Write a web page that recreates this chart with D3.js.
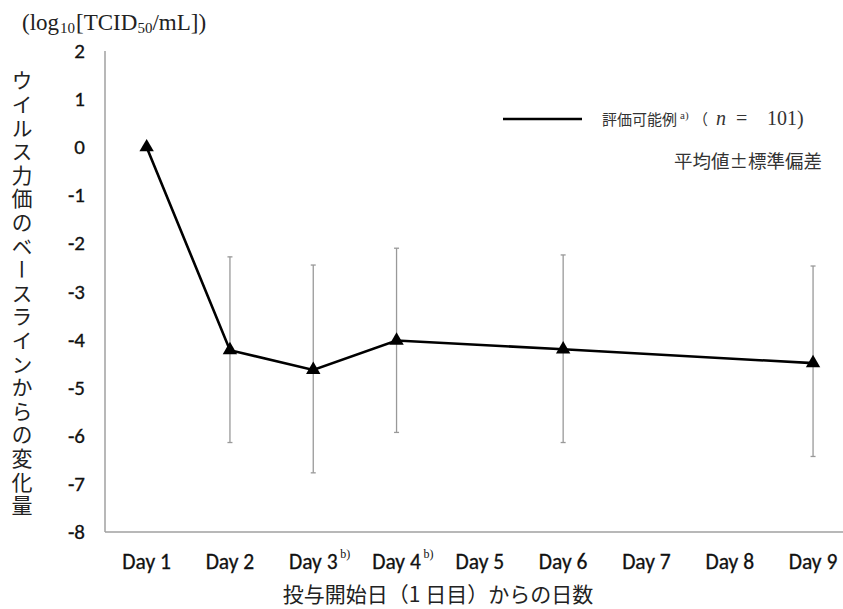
<!DOCTYPE html>
<html><head><meta charset="utf-8">
<script src="https://cdn.jsdelivr.net/npm/d3@7"></script>
<style>body{margin:0;background:#fff}</style>
</head><body>
<svg id="c" width="843" height="609"></svg>
<script>
const days = ["Day 1","Day 2","Day 3","Day 4","Day 5","Day 6","Day 7","Day 8","Day 9"];
const daySup = ["","","b)","b)","","","","",""];
const pointDays = ["Day 1","Day 2","Day 3","Day 4","Day 6","Day 9"];
const means = [0, -4.22, -4.63, -4.02, -4.20, -4.49];
const errLow = [null, -6.14, -6.77, -5.93, -6.14, -6.43];
const errHigh = [null, -2.28, -2.45, -2.10, -2.24, -2.47];
const yTicks = [2,1,0,-1,-2,-3,-4,-5,-6,-7,-8];
const yTitle = "ウイルス力価のベースラインからの変化量";
const xTitle = "投与開始日（1 日目）からの日数";
const legendLabel = "評価可能例";
const legendNote = "平均値±標準偏差";

const svg = d3.select("#c");
const x = d3.scaleBand().domain(days).range([105, 105 + 9*83.3]);
const y = d3.scaleLinear().domain([-8, 2]).range([532, 51]);
const cx = d => x(d) + x.bandwidth()/2;

// axes
svg.append("line").attr("x1",105).attr("x2",105).attr("y1",y(2)).attr("y2",y(-8))
  .attr("stroke","#a0a0a0").attr("stroke-width",1.5);
svg.append("line").attr("x1",105).attr("x2",843).attr("y1",y(-8)).attr("y2",y(-8))
  .attr("stroke","#a0a0a0").attr("stroke-width",1.5);

const tickFont = "Carlito, Lato, 'Open Sans', sans-serif";
svg.append("g").selectAll("text").data(yTicks).join("text")
  .attr("x",85).attr("y",d=>y(d)+7).attr("text-anchor","end")
  .attr("font-family",tickFont).attr("font-size",21)
  .attr("fill","#111").attr("stroke","#111").attr("stroke-width",0.3).text(d=>d);

svg.append("g").selectAll("text").data(days).join("text")
  .attr("x",d=>cx(d)).attr("y",569).attr("text-anchor","middle")
  .attr("font-family",tickFont).attr("font-size",21.5)
  .attr("fill","#111").attr("stroke","#111").attr("stroke-width",0.3).text(d=>d);
svg.append("g").selectAll("text").data(days.filter((d,i)=>daySup[i])).join("text")
  .attr("x",d=>cx(d)+27).attr("y",558)
  .attr("font-family","'Liberation Serif', serif").attr("font-size",12)
  .attr("fill","#111").text(d=>daySup[days.indexOf(d)]);

// error bars
const eb = pointDays.map((d,i)=>({d,lo:errLow[i],hi:errHigh[i]})).filter(e=>e.lo!==null);
const g = svg.append("g").attr("stroke","#999").attr("stroke-width",1.3);
g.selectAll("line.v").data(eb).join("line").attr("class","v")
  .attr("x1",e=>cx(e.d)).attr("x2",e=>cx(e.d)).attr("y1",e=>y(e.hi)).attr("y2",e=>y(e.lo));
g.selectAll("line.t").data(eb).join("line").attr("class","t")
  .attr("x1",e=>cx(e.d)-2.5).attr("x2",e=>cx(e.d)+2.5).attr("y1",e=>y(e.hi)).attr("y2",e=>y(e.hi));
g.selectAll("line.b").data(eb).join("line").attr("class","b")
  .attr("x1",e=>cx(e.d)-2.5).attr("x2",e=>cx(e.d)+2.5).attr("y1",e=>y(e.lo)).attr("y2",e=>y(e.lo));

// line
const pts = pointDays.map((d,i)=>[cx(d), y(means[i])]);
svg.append("path").attr("d",d3.line()(pts)).attr("fill","none")
  .attr("stroke","#000").attr("stroke-width",2.6);
svg.append("g").selectAll("path").data(pts).join("path")
  .attr("transform",p=>`translate(${p[0]},${p[1]})`)
  .attr("d",d3.symbol(d3.symbolTriangle,90)).attr("fill","#000");

// y title (vertical)
svg.append("text").attr("x",22).attr("y",70)
  .style("writing-mode","vertical-rl").style("text-orientation","upright")
  .attr("font-family","'Noto Sans CJK JP', sans-serif").attr("font-size",21)
  .attr("letter-spacing",2.6).attr("fill","#222").text(yTitle);

// unit label
const u = svg.append("text").attr("x",22).attr("y",30)
  .attr("font-family","'Liberation Serif', serif").attr("font-size",23).attr("fill","#222");
u.append("tspan").text("(log");
u.append("tspan").attr("font-size",15).attr("dy",3).attr("dx",1).text("10");
u.append("tspan").attr("dy",-3).attr("dx",1).text("[TCID");
u.append("tspan").attr("font-size",15).attr("dy",3).text("50");
u.append("tspan").attr("dy",-3).text("/mL])");

// x title
svg.append("text").attr("x",438).attr("y",602).attr("text-anchor","middle")
  .attr("font-family","'Noto Sans CJK JP', sans-serif").attr("font-size",21)
  .attr("fill","#222").text(xTitle);

// legend
svg.append("line").attr("x1",503).attr("x2",582).attr("y1",119).attr("y2",119)
  .attr("stroke","#000").attr("stroke-width",2.4);
const lt = svg.append("text").attr("y",125)
  .attr("font-family","'Noto Sans CJK JP', sans-serif").attr("font-size",15).attr("fill","#333");
lt.append("tspan").attr("x",602).text(legendLabel);
lt.append("tspan").attr("x",680).attr("font-family","'Liberation Serif', serif").attr("font-size",11).attr("dy",-6).text("a)");
lt.append("tspan").attr("x",693).attr("dy",6).text("（");
lt.append("tspan").attr("x",716).attr("font-family","'Liberation Serif', serif").attr("font-style","italic").attr("font-size",20).text("n");
lt.append("tspan").attr("x",736).attr("font-family","'Liberation Serif', serif").attr("font-size",20).text("=");
lt.append("tspan").attr("x",767).attr("font-family","'Liberation Serif', serif").attr("font-size",20).text("101)");
svg.append("text").attr("x",822).attr("y",168).attr("text-anchor","end")
  .attr("font-family","'Noto Sans CJK JP', sans-serif").attr("font-size",18.5).attr("fill","#333")
  .text(legendNote);
</script>
</body></html>
